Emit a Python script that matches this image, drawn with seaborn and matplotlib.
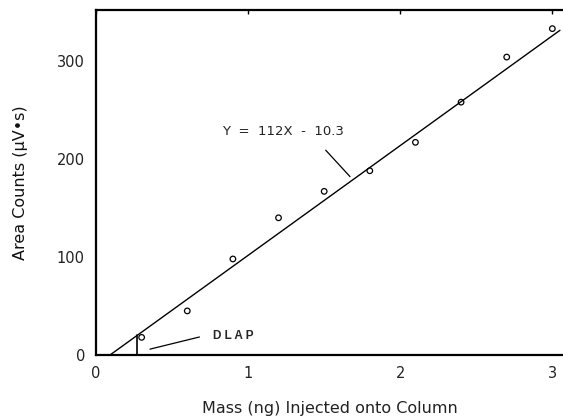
import numpy as np
import pandas as pd
import seaborn as sns
import matplotlib
matplotlib.use('Agg')
import matplotlib.pyplot as plt

# dados
mass = [0.3, 0.6, 0.9, 1.2, 1.5, 1.8, 2.1, 2.4, 2.7, 3.0]
area = [18, 45, 98, 140, 167, 188, 217, 258, 304, 333]

slope = 112
intercept = -10.3
fit_range = [0.092, 3.05]
dlap = 0.27

sns.set_theme(style='white')
plt.rcParams['font.family'] = ['DejaVu Sans']

fig = plt.figure(figsize=(5.63, 4.19), dpi=100)
ax = fig.add_axes([0.1705, 0.1527, 0.8295, 0.8234])

df = pd.DataFrame({'x': mass, 'y': area})
fit = pd.DataFrame({'x': fit_range})
fit['y'] = slope * fit['x'] + intercept

sns.lineplot(data=fit, x='x', y='y', ax=ax, color='black', linewidth=1.0)
sns.scatterplot(data=df, x='x', y='y', ax=ax, marker='o', s=16,
                facecolors='none', edgecolor='black', linewidth=0.9)

# linha vertical do DLAP
ax.plot([dlap, dlap], [0, slope * dlap + intercept], color='black', linewidth=1.2)
ax.plot([0.355, 0.68], [6, 18.4], color='black', linewidth=0.9)
ax.text(0.77, 19, 'D L A P', fontsize=8.5, fontweight='bold', va='center', ha='left',
        family='Liberation Sans')

# equação
ax.text(0.83, 228, 'Y  =  112X  -  10.3', fontsize=9.5, va='center', ha='left', color='#222222')
ax.plot([1.51, 1.67], [209, 182], color='black', linewidth=0.9)

ax.set_xlim(0, 3.07)
ax.set_ylim(0, 352)
ax.set_xticks([0, 1, 2, 3])
ax.set_yticks([0, 100, 200, 300])
ax.tick_params(axis='both', length=0, labelsize=10.5, pad=8, labelcolor='#222222')
ax.tick_params(axis='x', top=True, direction='in', length=3, width=1, colors='black',
               labelcolor='#222222', pad=8)
ax.tick_params(axis='x', bottom=False)

for s in ['left', 'bottom', 'top']:
    ax.spines[s].set_color('black')
    ax.spines[s].set_linewidth(1.6)
ax.spines['right'].set_visible(False)

ax.set_xlabel('Mass (ng) Injected onto Column', fontsize=11.5, labelpad=14, color='#222222')
ax.set_ylabel('Area Counts (\u00b5V\u2022s)', fontsize=11.5, labelpad=21, color='#111111')

plt.savefig('out.png', dpi=100)
